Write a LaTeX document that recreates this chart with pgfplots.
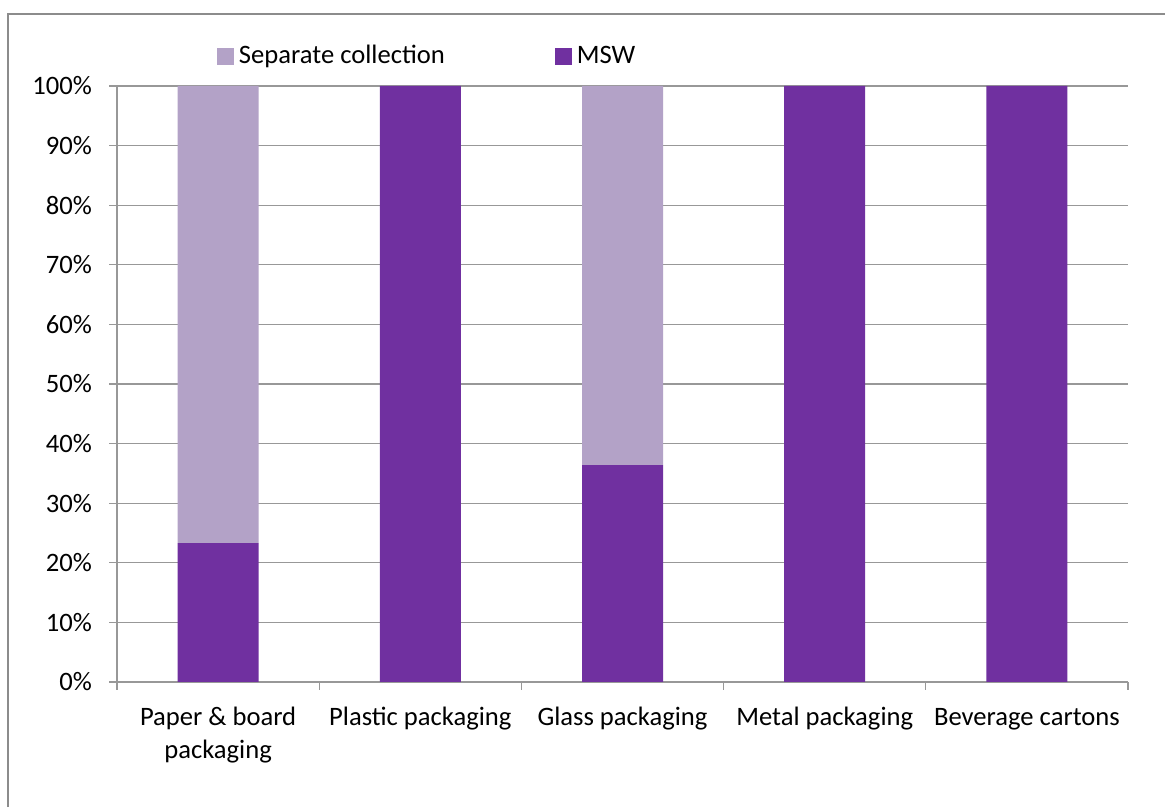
\documentclass[border=0pt]{standalone}
\usepackage{pgfplots}
\pgfplotsset{compat=1.18}
\usepackage{fontspec}
\setmainfont{Carlito}
\definecolor{sepcol}{HTML}{B3A2C7}
\definecolor{mswcol}{HTML}{7030A0}
\definecolor{axgray}{HTML}{989898}
\definecolor{framegray}{HTML}{8C8C8C}
\begin{document}
\begin{tikzpicture}
\useasboundingbox (0pt,0pt) rectangle (582.5pt,403.5pt);
\fill[white] (0pt,0pt) rectangle (582.5pt,403.5pt);
\draw[framegray, line width=1pt] (4pt,0pt) -- (4pt,396.5pt) -- (582.5pt,396.5pt);
\begin{axis}[
  at={(58.5pt,62.5pt)}, anchor=south west,
  scale only axis, width=505.5pt, height=298pt,
  xmin=-0.5, xmax=4.5, ymin=0, ymax=100,
  ybar stacked, bar width=40.5pt,
  axis x line*=bottom, axis y line*=left,
  axis line style={axgray, line width=0.6pt},
  tick align=outside, major tick length=4pt,
  tick style={axgray, line width=0.6pt},
  xtick={-0.5,0.5,...,4.5}, xticklabels={},
  extra x ticks={0,1,2,3,4},
  extra x tick labels={{\strut Paper \& board\\packaging},{\strut Plastic packaging},{\strut Glass packaging},{\strut Metal packaging},{\strut Beverage cartons}},
  extra x tick style={major tick length=0pt, grid=none,
    xticklabel style={align=center, anchor=north, yshift=-6.5pt}},
  ytick={0,10,...,100},
  yticklabel={\pgfmathprintnumber{\tick}\%},
  ymajorgrids, grid style={axgray, line width=0.6pt},
  /pgf/number format/assume math mode=true,
  ticklabel style={font=\fontsize{13.3}{16.5}\selectfont, text=black},
  yticklabel style={xshift=-5pt},
  legend columns=2, reverse legend,
  legend style={draw=none, fill=none, inner sep=0pt, outer sep=0pt,
    at={(axis description cs:0.0989,1.0503)}, anchor=west,
    font=\fontsize{13.3}{16}\selectfont,
    nodes={inner sep=1pt},
    /tikz/every odd column/.append style={column sep=1.5pt},
    /tikz/every even column/.append style={column sep=54pt}},
  legend image code/.code={\fill[#1] (0pt,-4.25pt) rectangle (8.5pt,4.25pt);},
]
\addplot[fill=mswcol, draw=none] coordinates {(0,23.3) (1,100) (2,36.4) (3,100) (4,100)};
\addplot[fill=sepcol, draw=none] coordinates {(0,76.7) (1,0) (2,63.6) (3,0) (4,0)};
\legend{MSW, Separate collection}
\end{axis}
\end{tikzpicture}
\end{document}
